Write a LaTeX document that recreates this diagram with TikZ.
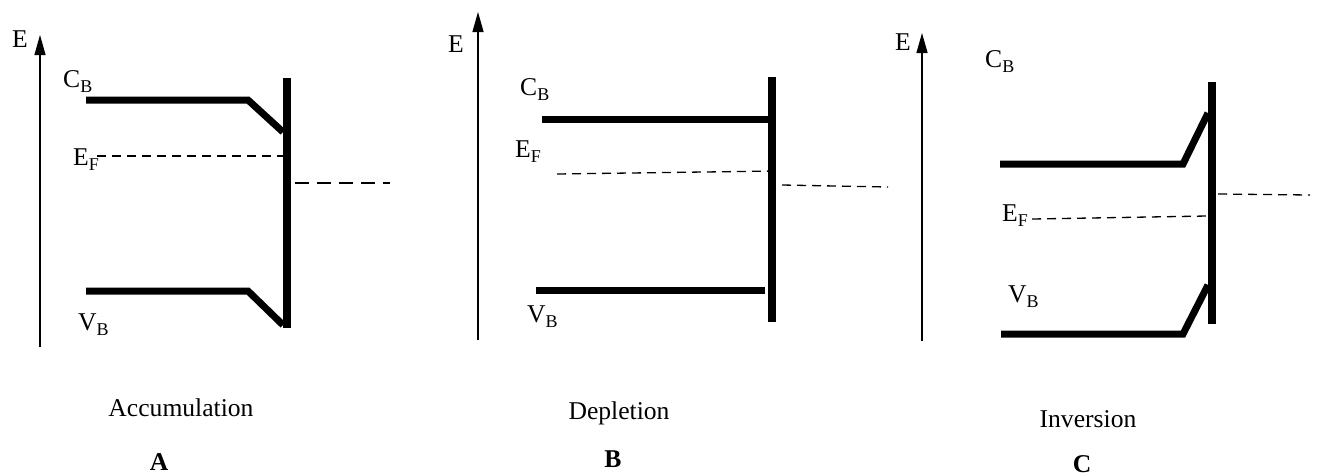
\documentclass[tikz,border=0pt]{standalone}
\usepackage{fontspec}
\setmainfont{Liberation Serif}
\usetikzlibrary{arrows.meta}
\newcommand\lsub[1]{\raisebox{-5pt}{\fontsize{18}{18}\selectfont #1}}
\tikzset{
  axisline/.style={line width=1.2pt,-{Triangle[length=20pt,width=11pt]}},
  band/.style={line width=7pt,line join=miter},
  surface/.style={line width=7.5pt},
  fermi/.style={line width=1.3pt,dash pattern=on 9pt off 6pt},
  lbl/.style={inner sep=0pt,anchor=base west,font=\fontsize{25.6}{28}\selectfont},
  caption/.style={inner sep=0pt,anchor=base,font=\fontsize{25.6}{28}\selectfont},
  letter/.style={inner sep=0pt,anchor=base,font=\fontsize{25.6}{28}\selectfont\bfseries}
}
\begin{document}
\begin{tikzpicture}[x=1pt,y=-1pt]
\useasboundingbox (0,0) rectangle (1317,475);
% ---------- Panel A ----------
\coordinate (a0) at (40,347); \coordinate (a1) at (40,35);
\draw[axisline] (a0) -- (a1);
\node[lbl] (aE) at (12,47) {E};
\node[lbl] (aC) at (63,87) {C\lsub{B}};
\node[lbl] (aF) at (73,165) {E\lsub{F}};
\node[lbl] (aV) at (78,330) {V\lsub{B}};
\coordinate (ac1) at (86,100); \coordinate (ac2) at (248,100); \coordinate (ac3) at (283,132);
\draw[band] (ac1) -- (ac2) -- (ac3);
\coordinate (av1) at (86,291); \coordinate (av2) at (248,291); \coordinate (av3) at (283,325);
\draw[band] (av1) -- (av2) -- (av3);
\coordinate (as1) at (287,78); \coordinate (as2) at (287,328);
\draw[surface] (as1) -- (as2);
\coordinate (af1) at (97,156); \coordinate (af2) at (283,156);
\draw[fermi] (af1) -- (af2);
\coordinate (am1) at (295,183); \coordinate (am2) at (390,183);
\draw[fermi,dash pattern=on 14pt off 8pt] (am1) -- (am2);
\node[caption] (aT) at (181,416) {Accumulation};
\node[letter] (aL) at (159,470) {A};
% ---------- Panel B ----------
\coordinate (b0) at (478,340); \coordinate (b1) at (478,12);
\draw[axisline] (b0) -- (b1);
\node[lbl] (bE) at (448,52) {E};
\node[lbl] (bC) at (520,95) {C\lsub{B}};
\node[lbl] (bF) at (515,157) {E\lsub{F}};
\node[lbl] (bV) at (527,322) {V\lsub{B}};
\coordinate (bc1) at (542,119); \coordinate (bc2) at (770,119);
\draw[band] (bc1) -- (bc2);
\coordinate (bv1) at (536,290); \coordinate (bv2) at (765,290);
\draw[band] (bv1) -- (bv2);
\coordinate (bs1) at (772,77); \coordinate (bs2) at (772,322);
\draw[surface] (bs1) -- (bs2);
\coordinate (bf1) at (557,174); \coordinate (bf2) at (777,171);
\draw[fermi] (bf1) -- (bf2);
\coordinate (bm1) at (782,185); \coordinate (bm2) at (888,187);
\draw[fermi] (bm1) -- (bm2);
\node[caption] (bT) at (619,419) {Depletion};
\node[letter] (bL) at (613,467) {B};
% ---------- Panel C ----------
\coordinate (c0) at (922,341); \coordinate (c1) at (922,33);
\draw[axisline] (c0) -- (c1);
\node[lbl] (cE) at (895,50) {E};
\node[lbl] (cC) at (985,67) {C\lsub{B}};
\node[lbl] (cF) at (1002,221) {E\lsub{F}};
\node[lbl] (cV) at (1008,302) {V\lsub{B}};
\coordinate (cc1) at (1000,164); \coordinate (cc2) at (1183,164); \coordinate (cc3) at (1208,113);
\draw[band] (cc1) -- (cc2) -- (cc3);
\coordinate (cv1) at (1001,334); \coordinate (cv2) at (1183,334); \coordinate (cv3) at (1208,285);
\draw[band] (cv1) -- (cv2) -- (cv3);
\coordinate (cs1) at (1212,82); \coordinate (cs2) at (1212,324);
\draw[surface] (cs1) -- (cs2);
\coordinate (cf1) at (1032,219); \coordinate (cf2) at (1207,216);
\draw[fermi] (cf1) -- (cf2);
\coordinate (cm1) at (1218,194); \coordinate (cm2) at (1310,195);
\draw[fermi] (cm1) -- (cm2);
\node[caption] (cT) at (1088,427) {Inversion};
\node[letter] (cL) at (1082,472) {C};
\end{tikzpicture}
\end{document}
